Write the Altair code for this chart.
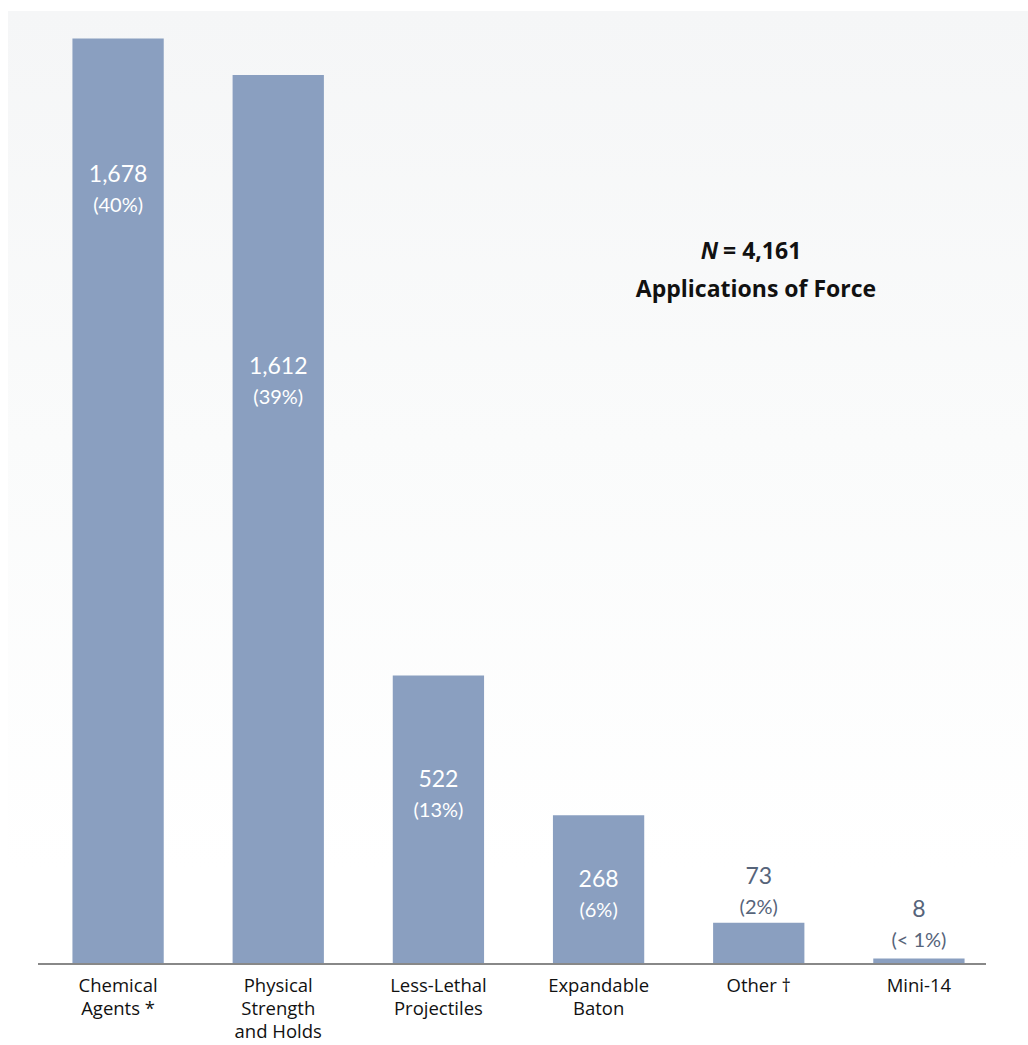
import altair as alt
import pandas as pd

categories = ["Chemical|Agents *", "Physical|Strength|and Holds", "Less-Lethal|Projectiles",
              "Expandable|Baton", "Other †", "Mini-14"]
values = [1678, 1612, 522, 268, 73, 8]
pct_labels = ["(40%)", "(39%)", "(13%)", "(6%)", "(2%)", "(< 1%)"]
label_y = [1431, 1082, 332, 151, 156, 96]

df = pd.DataFrame({"cat": categories, "value": values, "pct": pct_labels, "ly": label_y})

W, H = 961, 952
FONT = "Lato"
FONT2 = "Open Sans"
BAR = "#8a9fc0"
DARK = "#56647a"

x = alt.X("cat:N", sort=None, title=None,
          scale=alt.Scale(paddingInner=0.43, paddingOuter=0.215),
          axis=alt.Axis(labelAngle=0, domain=False, ticks=False, labelFontSize=18.5,
                        labelColor="#111111", labelFont=FONT2, labelPadding=13,
                        labelLineHeight=23, labelExpr="split(datum.label, '|')"))
yscale = alt.Scale(domain=[0, 1728], nice=False)

bg = alt.Chart(pd.DataFrame({"a": [0]})).mark_rect(
    fill=alt.Gradient(gradient="linear", x1=0, x2=0, y1=0, y2=1,
                      stops=[alt.GradientStop(color="#f5f6f7", offset=0),
                             alt.GradientStop(color="#fafbfb", offset=0.45),
                             alt.GradientStop(color="#ffffff", offset=0.9)])
).encode(x=alt.value(-30), x2=alt.value(990), y=alt.value(0), y2=alt.value(H))

base = alt.Chart(df)
bars = base.mark_bar(color=BAR).encode(
    x=x, y=alt.Y("value:Q", scale=yscale, axis=None))

txtcolor = alt.condition(alt.datum.value < 100, alt.value(DARK), alt.value("white"))
num = base.mark_text(fontSize=23, font=FONT, baseline="middle").encode(
    x=x, y=alt.Y("ly:Q", scale=yscale, axis=None),
    text=alt.Text("value:Q", format=","), color=txtcolor)
pct = base.mark_text(fontSize=20, font=FONT, baseline="middle", dy=31).encode(
    x=x, y=alt.Y("ly:Q", scale=yscale, axis=None),
    text="pct:N", color=txtcolor)

axis_line = alt.Chart(pd.DataFrame({"a": [0]})).mark_rule(color="#888888", strokeWidth=2).encode(
    x=alt.value(0), x2=alt.value(948), y=alt.value(H + 1))

ann_n = alt.Chart(pd.DataFrame({"t": ["N"]})).mark_text(
    font=FONT2, fontSize=23, fontWeight="bold", fontStyle="italic", align="right", baseline="middle",
    color="#111111").encode(x=alt.value(680), y=alt.value(241), text="t:N")
ann_v = alt.Chart(pd.DataFrame({"t": ["= 4,161"]})).mark_text(
    font=FONT2, fontSize=23, fontWeight="bold", align="left", baseline="middle",
    color="#111111").encode(x=alt.value(685), y=alt.value(241), text="t:N")
ann_2 = alt.Chart(pd.DataFrame({"t": ["Applications of Force"]})).mark_text(
    font=FONT2, fontSize=23, fontWeight="bold", align="center", baseline="middle",
    color="#111111").encode(x=alt.value(718), y=alt.value(279), text="t:N")

chart = alt.layer(bg, bars, axis_line, num, pct, ann_n, ann_v, ann_2).properties(
    width=W, height=H,
    padding={"left": 38, "top": 11, "right": 29, "bottom": 82},
    autosize=alt.AutoSizeParams(type="none"),
    background="white",
).configure_view(stroke=None)

chart.save("out.html", embed_options={"renderer": "svg", "actions": False})
